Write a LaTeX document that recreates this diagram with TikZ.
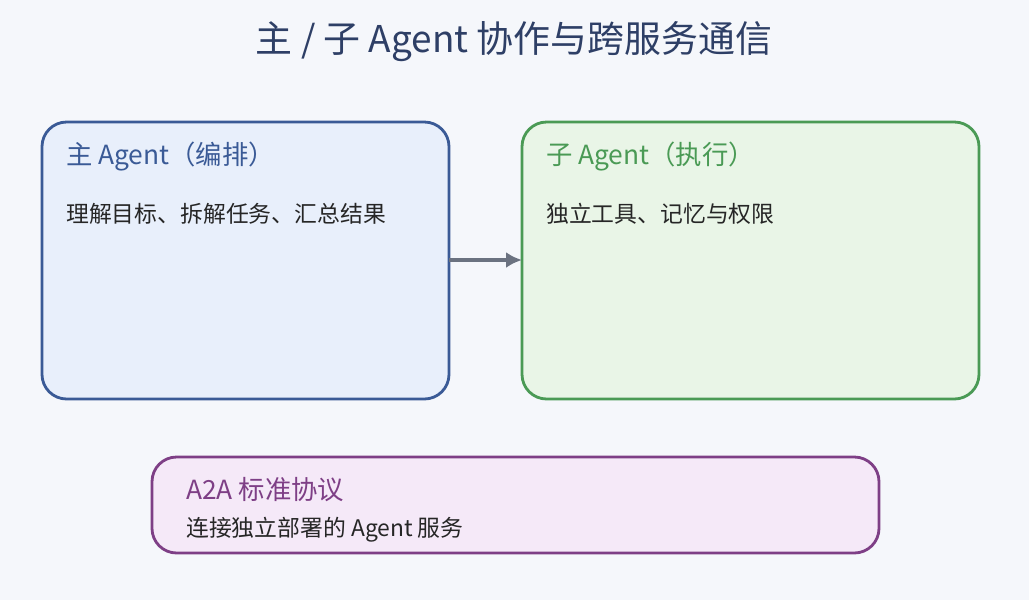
\documentclass[tikz,border=0pt]{standalone}
\usepackage{fontspec}
\setmainfont{Noto Sans CJK SC}
\usetikzlibrary{calc,arrows.meta}
\definecolor{bg}{HTML}{F5F7FB}
\definecolor{navy}{HTML}{2E3F66}
\definecolor{mainc}{HTML}{3A5A96}
\definecolor{mainf}{HTML}{E8EFFB}
\definecolor{subc}{HTML}{4A9A55}
\definecolor{subf}{HTML}{E9F5E7}
\definecolor{protc}{HTML}{7E3F86}
\definecolor{protf}{HTML}{F5E9F8}
\definecolor{arr}{HTML}{6B7280}
\tikzset{
  box/.style={rounded corners=14pt, line width=1.6pt},
  head/.style={anchor=west, font=\fontsize{15}{17}\selectfont},
  body/.style={anchor=west, text=black!85, font=\fontsize{13}{15}\selectfont}
}
\begin{document}
\begin{tikzpicture}[x=0.02cm, y=-0.02cm]
\fill[bg] (0,0) rectangle (1029,600);
\node[text=navy, font=\fontsize{21}{24}\selectfont] (title) at (514,42) {主 / 子 Agent 协作与跨服务通信};

% main agent
\draw[box, draw=mainc, fill=mainf] (42,122) rectangle (449,399);
\coordinate (mainE) at (449,260);
\node[head, text=mainc] (mainh) at (60,157) {主 Agent（编排）};
\node[body] (mainb) at (60,214) {理解目标、拆解任务、汇总结果};

% sub agent
\draw[box, draw=subc, fill=subf] (522,122) rectangle (979,399);
\coordinate (subW) at (522,260);
\node[head, text=subc] (subh) at (540,157) {子 Agent（执行）};
\node[body] (subb) at (540,214) {独立工具、记忆与权限};

% protocol
\draw[box, draw=protc, fill=protf] (152,457) rectangle (879,553);
\node[head, text=protc] (proth) at (180,490) {A2A 标准协议};
\node[body] (protb) at (180,530) {连接独立部署的 Agent 服务};

\draw[arr, line width=2.2pt, -{Latex[length=9pt,width=9pt]}] (mainE) -- (subW);
\end{tikzpicture}
\end{document}
